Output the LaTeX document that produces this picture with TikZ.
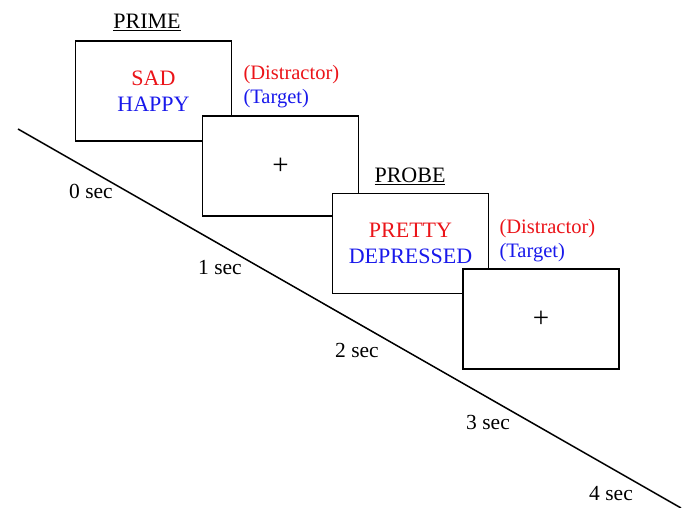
\documentclass[tikz,border=0pt]{standalone}
\usepackage{fontspec}
\setmainfont{Liberation Serif}
\definecolor{distred}{RGB}{235,20,25}
\definecolor{targblue}{RGB}{25,25,235}
\tikzset{
  screen/.style={draw,fill=white,line width=1.6pt,minimum width=156pt,minimum height=100pt,inner sep=0pt},
  word/.style={align=center,font=\fontsize{22}{26}\selectfont},
  cross/.style={font=\fontsize{29}{30}\selectfont},
  cue/.style={align=left,anchor=west,font=\fontsize{20.5}{24}\selectfont},
  secs/.style={anchor=base,font=\fontsize{21.5}{24}\selectfont},
  phase/.style={anchor=base,font=\fontsize{22}{24}\selectfont}
}
\begin{document}
\begin{tikzpicture}[x=1pt,y=-1pt]
  \useasboundingbox (0,0) rectangle (686,508);
  \coordinate (T0) at (18,129);
  \coordinate (T1) at (681,508);
  \draw[line width=1.5pt] (T0)--(T1);
  \node[secs] (s0) at (91,199) {0 sec};
  \node[secs] (s1) at (220,274) {1 sec};
  \node[secs] (s2) at (357,357) {2 sec};
  \node[secs] (s3) at (488,429) {3 sec};
  \node[secs] (s4) at (611,500) {4 sec};
  \node[screen,word] (prime) at (153.5,91) {\textcolor{distred}{SAD}\\\textcolor{targblue}{HAPPY}};
  \node[screen,cross] (fix1) at (280.5,166) {+};
  \node[screen,word] (probe) at (410.5,243.5) {\textcolor{distred}{PRETTY}\\\textcolor{targblue}{DEPRESSED}};
  \node[screen,cross] (fix2) at (541,319) {+};
  \node[phase] (primelabel) at (147,29) {\underline{PRIME}};
  \node[phase] (probelabel) at (410,183) {\underline{PROBE}};
  \node[cue] (primecue) at (240,86.5) {\textcolor{distred}{(Distractor)}\\\textcolor{targblue}{(Target)}};
  \node[cue] (probecue) at (496,240.5) {\textcolor{distred}{(Distractor)}\\\textcolor{targblue}{(Target)}};
\end{tikzpicture}
\end{document}
